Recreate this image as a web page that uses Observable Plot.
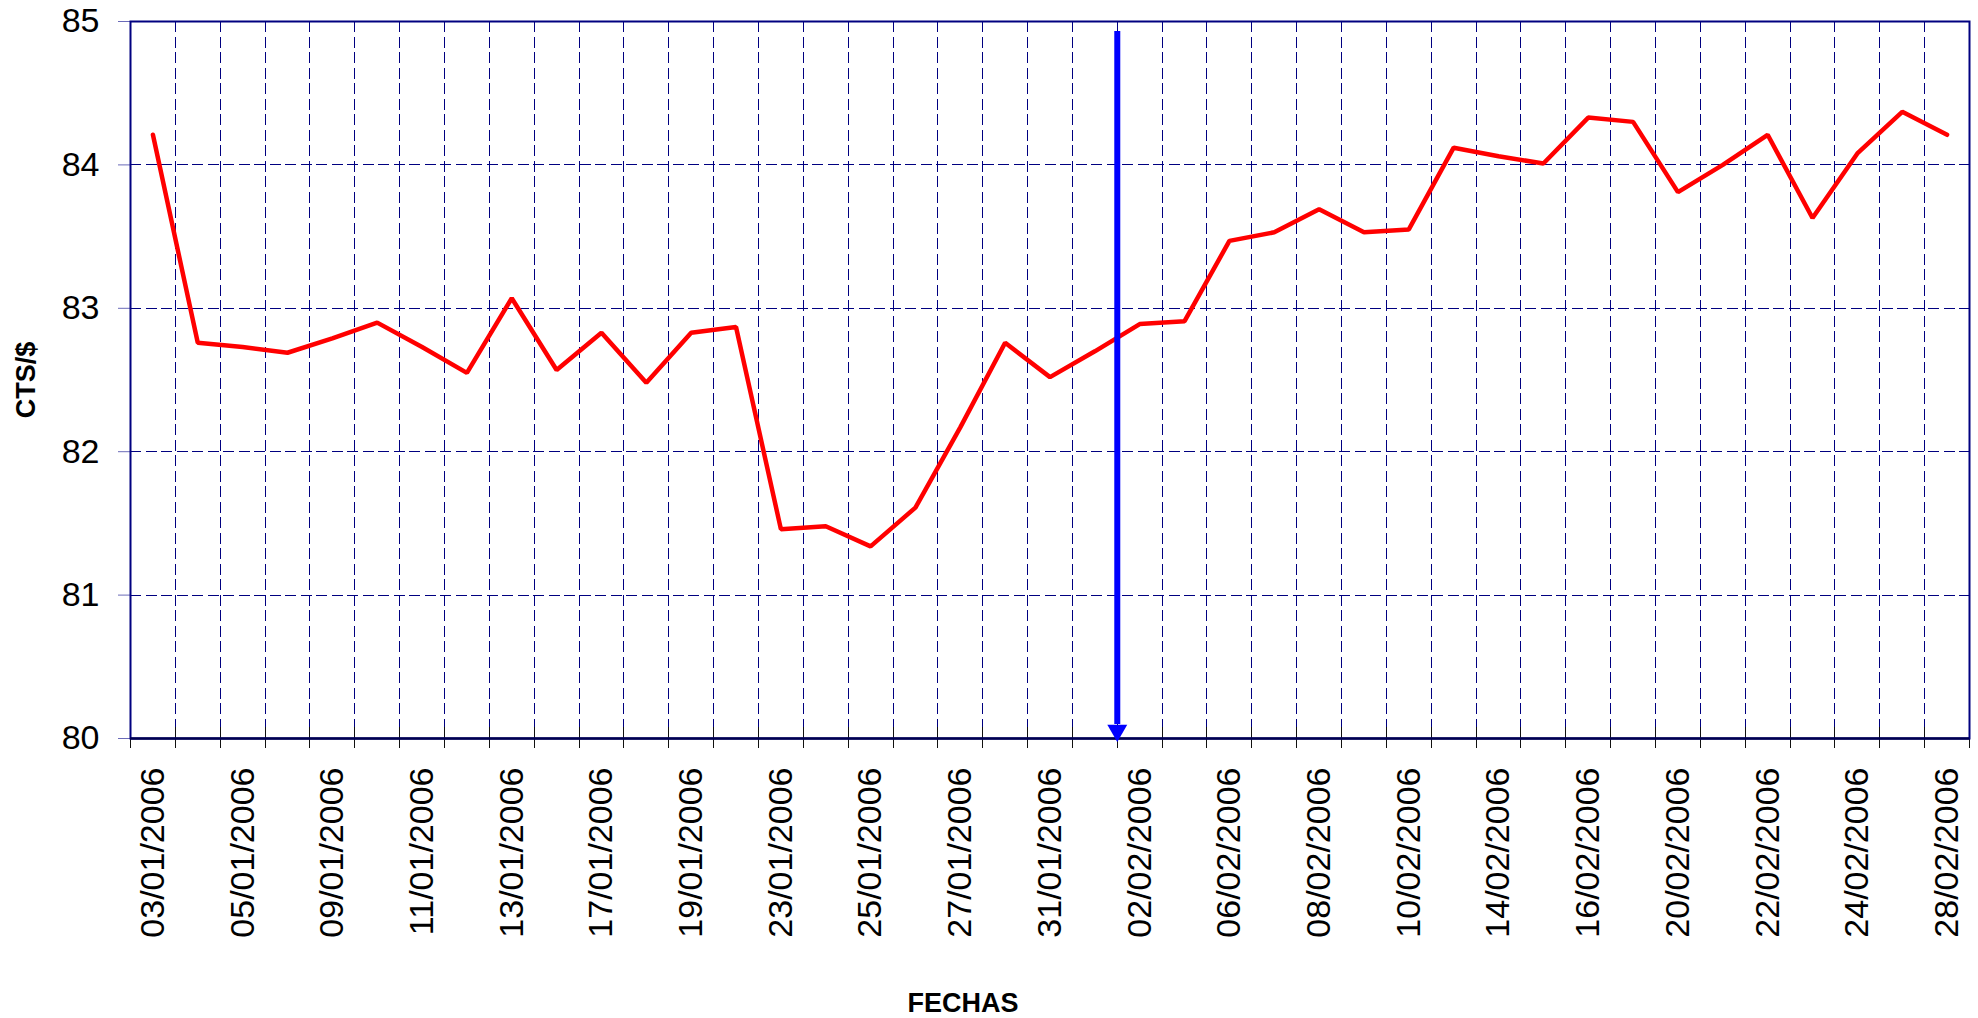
<!DOCTYPE html>
<html>
<head>
<meta charset="utf-8">
<script src="https://cdn.jsdelivr.net/npm/d3@7"></script>
<script src="https://cdn.jsdelivr.net/npm/@observablehq/plot@0.6"></script>
<style>
  html, body { margin: 0; padding: 0; background: #fff; }
  #chart svg { display: block; }
</style>
</head>
<body>
<div id="chart"></div>
<script>
// ---- data ----
const fechas = [
  "03/01/2006","04/01/2006","05/01/2006","06/01/2006","09/01/2006","10/01/2006","11/01/2006",
  "12/01/2006","13/01/2006","16/01/2006","17/01/2006","18/01/2006","19/01/2006","20/01/2006",
  "23/01/2006","24/01/2006","25/01/2006","26/01/2006","27/01/2006","30/01/2006","31/01/2006",
  "01/02/2006","02/02/2006","03/02/2006","06/02/2006","07/02/2006","08/02/2006","09/02/2006",
  "10/02/2006","13/02/2006","14/02/2006","15/02/2006","16/02/2006","17/02/2006","20/02/2006",
  "21/02/2006","22/02/2006","23/02/2006","24/02/2006","27/02/2006","28/02/2006"
];
const valores = [
  84.21, 82.76, 82.73, 82.69, 82.79, 82.90, 82.73,
  82.55, 83.07, 82.57, 82.83, 82.48, 82.83, 82.87,
  81.46, 81.48, 81.34, 81.61, 82.17, 82.76, 82.52,
  82.70, 82.89, 82.91, 83.47, 83.53, 83.69, 83.53,
  83.55, 84.12, 84.06, 84.01, 84.33, 84.30, 83.81,
  84.00, 84.21, 83.63, 84.08, 84.37, 84.21
];
const yTicks = [80, 81, 82, 83, 84, 85];
const flechaFecha = "02/02/2006";   // arrow marks the start of this day
const flechaDesde = 84.93;
const flechaHasta = 80;
const tituloY = "CTS/$";
const tituloX = "FECHAS";

// ---- build ----
const rows = fechas.map((f, i) => ({i, fecha: f, valor: valores[i]}));
const n = fechas.length;
const labelRows = rows.filter(d => d.i % 2 === 0);
const flechaIdx = fechas.indexOf(flechaFecha);
const navy = "#000080";

const chart = Plot.plot({
  width: 1978,
  height: 1018,
  marginLeft: 130,
  marginRight: 9,
  marginTop: 21,
  marginBottom: 280,
  x: {domain: [0, n], axis: null},
  y: {domain: [80, 85], axis: null},
  style: {fontFamily: "'Liberation Sans', Arial, sans-serif", background: "#fff", overflow: "visible"},
  marks: [
    // vertical dashed gridlines at category boundaries
    Plot.ruleX(d3.range(1, n), {x: d => Math.round(d * 1839 / n) / (1839 / n), stroke: navy, strokeWidth: 1, strokeDasharray: "11,4.5", shapeRendering: "crispEdges"}),
    // horizontal dashed gridlines
    Plot.ruleY(yTicks.filter(v => v > 80 && v < 85), {stroke: navy, strokeWidth: 1, strokeDasharray: "11,4.5", shapeRendering: "crispEdges"}),
    // tick marks crossing the x axis at category boundaries
    Plot.ruleX(d3.range(0, n + 1), {y1: 80, y2: 80, insetTop: -11, insetBottom: -10, stroke: "#111", strokeWidth: 1, shapeRendering: "crispEdges"}),
    // y axis
    Plot.axisY(yTicks, {tickSize: 12, tickPadding: 19, fontSize: 34, tickFormat: d => String(d), stroke: "#6a6ab8", fill: "#000", label: null}),
    // x tick labels (every other day)
    Plot.text(labelRows, {
      x: d => d.i + 0.5, text: "fecha", frameAnchor: "bottom",
      rotate: -90, textAnchor: "end", lineAnchor: "middle",
      dy: 29, fontSize: 34, fill: "#000"
    }),
    // frame
    Plot.frame({stroke: navy, strokeWidth: 2}),
    Plot.ruleY([80], {stroke: "#000050", strokeWidth: 2.5}),
    // series
    Plot.line(rows, {x: d => d.i + 0.5, y: "valor", stroke: "#ff0000", strokeWidth: 4.5, strokeLinejoin: "miter"}),
    // arrow
    Plot.ruleX([flechaIdx], {y1: flechaDesde, y2: flechaHasta, insetBottom: 14, stroke: "#0000ff", strokeWidth: 6}),
    Plot.dot([{x: flechaIdx, y: flechaHasta}], {x: "x", y: "y", symbol: "triangle", rotate: 180, r: 7.4, fill: "#0000ff", stroke: "none", dy: -8}),
    // axis titles
    Plot.text([tituloY], {text: d => d, frameAnchor: "left", rotate: -90, dx: -104, fontSize: 27, fontWeight: "bold", textAnchor: "middle", lineAnchor: "middle", fill: "#000"}),
    Plot.text([tituloX], {text: d => d, frameAnchor: "bottom", dx: -87, dy: 265, fontSize: 27, fontWeight: "bold", textAnchor: "middle", lineAnchor: "middle", fill: "#000"})
  ]
});
document.getElementById("chart").appendChild(chart);
</script>
</body>
</html>
